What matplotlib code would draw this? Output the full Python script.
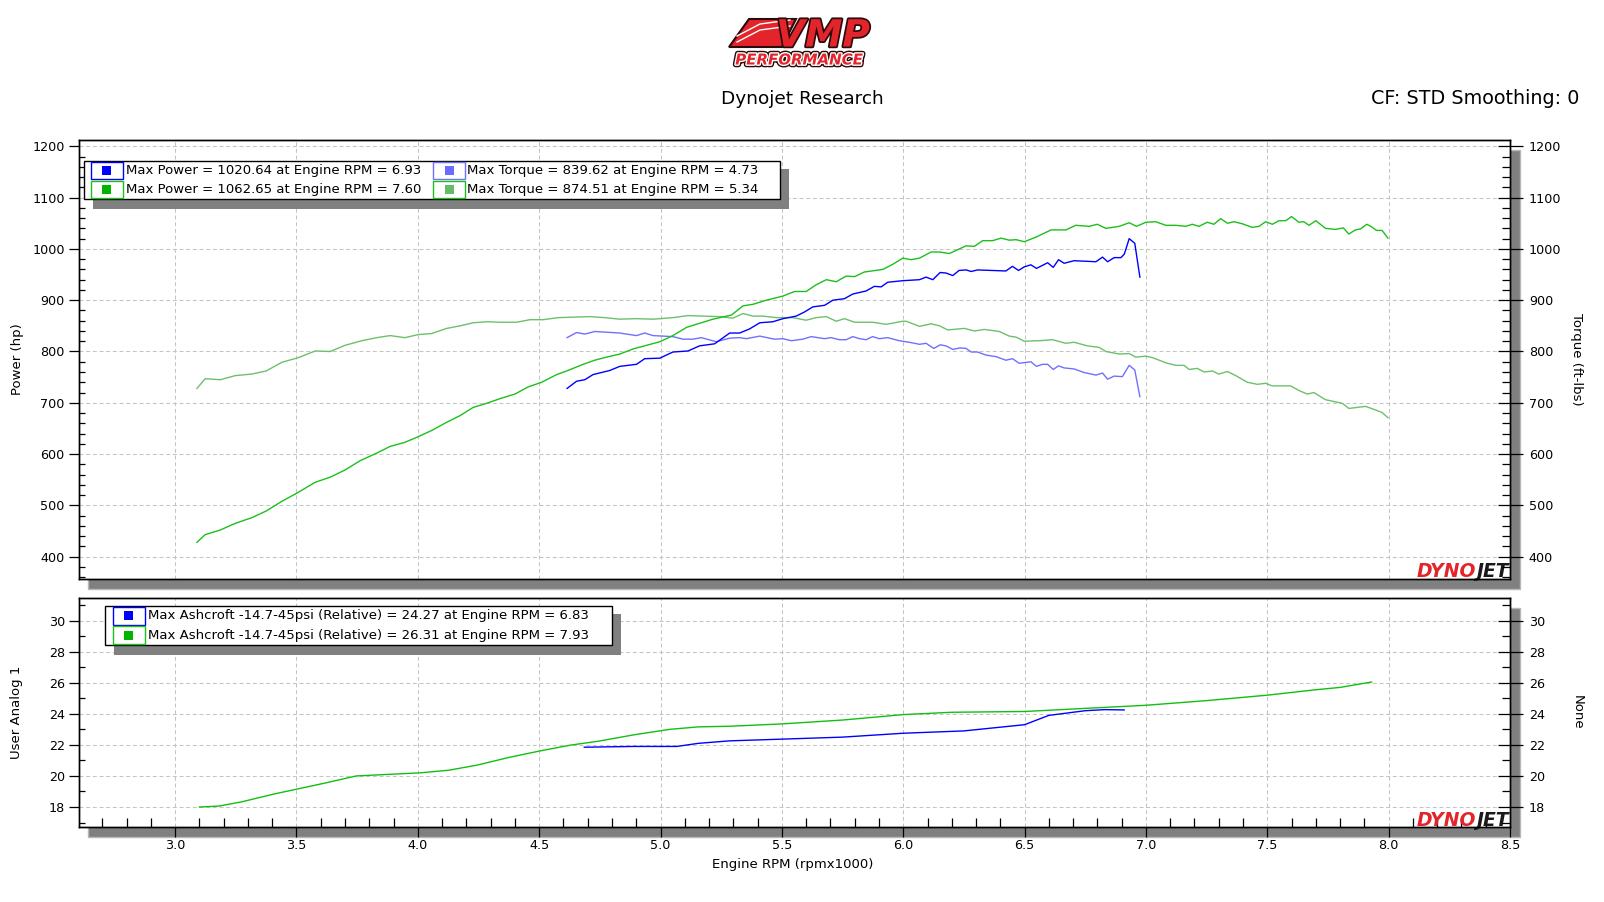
import matplotlib.pyplot as plt
import matplotlib.patheffects as pe
from matplotlib.patches import Rectangle, Polygon
from matplotlib.ticker import MultipleLocator

W, H = 1604, 902

# ---- run 1 (blue) ----
blue_hp_rpm = [4.615, 4.654, 4.688, 4.722, 4.791, 4.832, 4.901, 4.935, 4.997, 5.051,
               5.113, 5.161, 5.223, 5.285, 5.326, 5.367, 5.409, 5.463, 5.504, 5.559,
               5.593, 5.628, 5.676, 5.71, 5.758, 5.792, 5.847, 5.881, 5.909, 5.936,
               5.998, 6.067, 6.094, 6.122, 6.152, 6.176, 6.204, 6.23, 6.259, 6.28,
               6.306, 6.423, 6.45, 6.475, 6.499, 6.526, 6.549, 6.595, 6.618, 6.64,
               6.663, 6.704, 6.794, 6.821, 6.842, 6.869, 6.897, 6.911, 6.931, 6.954,
               6.975]
blue_hp = [728, 742, 745, 755, 763, 771, 775, 786, 787, 799,
           801, 811, 815, 836, 836, 844, 856, 858, 864, 869,
           877, 887, 890, 900, 903, 912, 918, 927, 926, 935,
           938, 940, 945, 940, 954, 953, 948, 958, 959, 956,
           959, 957, 966, 958, 965, 969, 962, 973, 964, 979,
           972, 977, 975, 984, 975, 983, 983, 990, 1020, 1011,
           945]

blue_tq_rpm = [4.615, 4.654, 4.688, 4.729, 4.832, 4.901, 4.935, 4.969, 5.051, 5.093,
               5.134, 5.168, 5.23, 5.285, 5.326, 5.354, 5.409, 5.47, 5.504, 5.539,
               5.586, 5.621, 5.676, 5.703, 5.737, 5.765, 5.792, 5.82, 5.847, 5.874,
               5.902, 5.936, 5.984, 6.025, 6.067, 6.094, 6.126, 6.152, 6.176, 6.204,
               6.234, 6.259, 6.28, 6.306, 6.341, 6.382, 6.423, 6.45, 6.478, 6.526,
               6.549, 6.574, 6.595, 6.618, 6.64, 6.663, 6.704, 6.745, 6.794, 6.821,
               6.842, 6.869, 6.903, 6.931, 6.954, 6.975]
blue_tq = [827, 837, 834, 839, 836, 831, 836, 831, 829, 824,
           824, 827, 819, 826, 827, 825, 830, 824, 825, 821,
           824, 829, 825, 827, 823, 823, 829, 825, 823, 829,
           825, 827, 821, 818, 814, 816, 806, 813, 811, 804,
           807, 806, 799, 799, 793, 790, 783, 786, 777, 780,
           771, 775, 775, 765, 772, 768, 766, 759, 754, 758,
           746, 752, 751, 773, 764, 712]

# ---- run 2 (green) ----
green_hp_rpm = [3.09, 3.124, 3.186, 3.248, 3.316, 3.375, 3.44, 3.502, 3.577, 3.639,
                3.70, 3.762, 3.831, 3.886, 3.947, 4.002, 4.057, 4.119, 4.174, 4.228,
                4.284, 4.338, 4.40, 4.455, 4.51, 4.572, 4.613, 4.681, 4.729, 4.777,
                4.832, 4.887, 4.942, 4.997, 5.051, 5.107, 5.161, 5.216, 5.292, 5.34,
                5.381, 5.436, 5.504, 5.552, 5.60, 5.641, 5.683, 5.724, 5.765, 5.80,
                5.84, 5.916, 5.957, 5.998, 6.032, 6.067, 6.115, 6.149, 6.19, 6.259,
                6.293, 6.327, 6.368, 6.403, 6.437, 6.465, 6.499, 6.547, 6.609, 6.67,
                6.711, 6.766, 6.80, 6.835, 6.89, 6.931, 6.961, 7.0, 7.04, 7.082,
                7.123, 7.164, 7.191, 7.218, 7.253, 7.28, 7.308, 7.336, 7.363, 7.397,
                7.438, 7.466, 7.493, 7.521, 7.548, 7.576, 7.60, 7.63, 7.65, 7.672,
                7.70, 7.74, 7.781, 7.813, 7.836, 7.863, 7.884, 7.91, 7.93, 7.95,
                7.973, 7.997]
green_hp = [428, 443, 452, 465, 476, 489, 508, 524, 545, 555,
            569, 587, 602, 615, 623, 634, 646, 662, 675, 691,
            699, 708, 717, 731, 740, 755, 762, 775, 783, 789,
            795, 805, 812, 819, 831, 847, 855, 863, 871, 889,
            892, 900, 908, 917, 917, 930, 940, 936, 947, 946,
            955, 960, 970, 982, 979, 982, 994, 994, 991, 1006,
            1005, 1016, 1016, 1021, 1017, 1018, 1014, 1023, 1037, 1037,
            1046, 1044, 1048, 1040, 1044, 1051, 1044, 1052, 1053, 1046,
            1046, 1044, 1048, 1044, 1052, 1048, 1059, 1050, 1053, 1049,
            1042, 1044, 1053, 1048, 1055, 1055, 1063, 1052, 1053, 1046,
            1055, 1040, 1038, 1041, 1029, 1037, 1039, 1048, 1043, 1036,
            1036, 1021]

green_tq_rpm = [3.09, 3.124, 3.186, 3.248, 3.316, 3.375, 3.44, 3.508, 3.577, 3.639,
                3.70, 3.769, 3.831, 3.886, 3.947, 4.002, 4.057, 4.119, 4.174, 4.228,
                4.284, 4.338, 4.407, 4.462, 4.516, 4.578, 4.64, 4.709, 4.77, 4.832,
                4.901, 4.969, 5.051, 5.113, 5.175, 5.243, 5.298, 5.34, 5.381, 5.422,
                5.477, 5.545, 5.60, 5.641, 5.683, 5.724, 5.758, 5.80, 5.874, 5.93,
                5.998, 6.012, 6.067, 6.115, 6.15, 6.183, 6.252, 6.293, 6.334, 6.396,
                6.437, 6.465, 6.499, 6.56, 6.615, 6.67, 6.704, 6.759, 6.807, 6.835,
                6.89, 6.931, 6.958, 7.0, 7.027, 7.082, 7.123, 7.157, 7.178, 7.212,
                7.24, 7.274, 7.30, 7.336, 7.37, 7.418, 7.459, 7.493, 7.52, 7.596,
                7.63, 7.665, 7.692, 7.74, 7.809, 7.836, 7.905, 7.946, 7.973, 7.997]
green_tq = [728, 747, 745, 753, 756, 762, 779, 788, 801, 800,
            812, 821, 827, 831, 827, 833, 835, 845, 850, 856,
            858, 857, 857, 862, 862, 866, 867, 868, 866, 863,
            864, 863, 866, 870, 869, 868, 865, 874, 869, 869,
            866, 866, 861, 866, 868, 859, 864, 857, 857, 853,
            859, 859, 849, 854, 850, 842, 845, 840, 843, 839,
            830, 828, 820, 821, 823, 816, 818, 811, 808, 800,
            795, 796, 789, 791, 788, 778, 773, 773, 765, 767,
            760, 762, 756, 761, 753, 740, 736, 738, 733, 733,
            724, 717, 720, 706, 699, 689, 693, 686, 681, 671]

# ---- boost (Ashcroft, psi) ----
boost_blue_rpm = [4.686, 4.891, 5.067, 5.156, 5.285, 5.5, 5.75, 6.0, 6.25, 6.5,
                  6.6, 6.75, 6.83, 6.91]
boost_blue = [21.85, 21.9, 21.9, 22.1, 22.26, 22.37, 22.5, 22.75, 22.9, 23.3,
              23.9, 24.2, 24.27, 24.25]

boost_green_rpm = [3.10, 3.18, 3.276, 3.408, 3.504, 3.614, 3.746, 3.863, 4.01, 4.128,
                   4.245, 4.377, 4.5, 4.627, 4.745, 4.891, 5.038, 5.156, 5.285, 5.5,
                   5.75, 6.0, 6.2, 6.5, 6.75, 7.0, 7.25, 7.5, 7.7, 7.8, 7.93]
boost_green = [18.0, 18.06, 18.34, 18.84, 19.16, 19.53, 20.0, 20.09, 20.2, 20.37,
               20.7, 21.2, 21.6, 21.98, 22.24, 22.65, 23.0, 23.16, 23.2, 23.35,
               23.6, 23.95, 24.1, 24.15, 24.35, 24.55, 24.85, 25.2, 25.55, 25.7, 26.05]

top_labels = [
    ["Max Power = 1020.64 at Engine RPM = 6.93", "Max Power = 1062.65 at Engine RPM = 7.60"],
    ["Max Torque = 839.62 at Engine RPM = 4.73", "Max Torque = 874.51 at Engine RPM = 5.34"],
]
bottom_labels = [
    "Max Ashcroft -14.7-45psi (Relative) = 24.27 at Engine RPM = 6.83",
    "Max Ashcroft -14.7-45psi (Relative) = 26.31 at Engine RPM = 7.93",
]

BLUE = "#0000ff"
BLUE_LT = "#7070ff"
GREEN = "#1cbf1c"
GREEN_LT = "#6cc06c"
GRID = "#c4c4c4"
SHADOW = "#808080"
RED = "#e3242b"

plt.rcParams["font.family"] = ["DejaVu Sans"]


def fx(x):
    return x / W


def fy(y):
    return 1 - y / H


def px_rect(fig, x0, y0, x1, y1, **kw):
    r = Rectangle((fx(x0), fy(y1)), (x1 - x0) / W, (y1 - y0) / H,
                  transform=fig.transFigure, **kw)
    fig.add_artist(r)
    return r


def px_axes(fig, x0, y0, x1, y1):
    return fig.add_axes([fx(x0), fy(y1), (x1 - x0) / W, (y1 - y0) / H])


def style_axes(ax, axr, major, minor):
    for a in (ax, axr):
        a.yaxis.set_major_locator(MultipleLocator(major))
        a.yaxis.set_minor_locator(MultipleLocator(minor))
        for s in a.spines.values():
            s.set_linewidth(1.0)
            s.set_color("black")
    ax.tick_params(axis="y", which="major", direction="out", length=7.2, width=0.9,
                   labelsize=9.2, pad=3)
    ax.tick_params(axis="y", which="minor", direction="in", length=4.5, width=0.9)
    axr.tick_params(axis="y", which="major", direction="inout", length=18, width=0.9,
                    labelsize=9.2, pad=4.5)
    axr.tick_params(axis="y", which="minor", direction="in", length=5.5, width=0.9)
    ax.xaxis.set_major_locator(MultipleLocator(0.5))
    ax.grid(True, which="major", color=GRID, linestyle=(0, (3.8, 2.6)), linewidth=0.75)
    ax.set_axisbelow(True)


def dynojet(ax):
    jet = ax.text(0.999, 0.004, "JET", transform=ax.transAxes, ha="right", va="baseline",
                  fontsize=13.5, fontweight="bold", fontstyle="italic", color="#1a1a1a",
                  zorder=6)
    ax.annotate("DYNO", xy=(0, 0), xycoords=jet, ha="right", va="bottom",
                fontsize=13.5, fontweight="bold", fontstyle="italic", color=RED, zorder=6)


def legend_box(fig, x0, y0, x1, y1, cols, rows_text, edge_colors, fill_colors):
    # shadow + frame
    px_rect(fig, x0 + 9, y0 + 8, x1 + 9, y1 + 10, facecolor=SHADOW, edgecolor="none", zorder=5)
    px_rect(fig, x0, y0, x1, y1, facecolor="white", edgecolor="black", linewidth=1.0, zorder=6)
    rh = (y1 - y0) / len(rows_text[0])
    for c, (cx0, cx1, tx) in enumerate(cols):
        for r, label in enumerate(rows_text[c]):
            ry0 = y0 + r * rh
            px_rect(fig, cx0, ry0 + 1, cx1, ry0 + rh - 0.5, facecolor="white",
                    edgecolor=edge_colors[c][r], linewidth=1.0, zorder=7)
            mx = (cx0 + cx1) / 2
            my = ry0 + rh / 2 + 0.3
            px_rect(fig, mx - 4.5, my - 4.5, mx + 4.5, my + 4.5, facecolor=fill_colors[c][r],
                    edgecolor="none", zorder=8)
            fig.text(fx(tx), fy(my), label, ha="left", va="center", fontsize=9.5,
                     color="black", zorder=8)


def vmp_logo(fig):
    wedge = Polygon([(fx(729), fy(47)), (fx(749), fy(19)), (fx(796), fy(19)),
                     (fx(782), fy(47))], closed=True, transform=fig.transFigure,
                    facecolor=RED, edgecolor="#2a0a0a", linewidth=1.5, zorder=3)
    fig.add_artist(wedge)
    for dy in (0, 6):
        fig.add_artist(plt.Line2D([fx(737), fx(760), fx(790)],
                                  [fy(42 - dy), fy(30 - dy), fy(26 - dy)],
                                  transform=fig.transFigure, color="white",
                                  linewidth=1.0, zorder=4))
    fig.text(fx(823), fy(46.5), "VMP", ha="center", va="baseline", fontsize=27,
             fontweight="bold", fontstyle="italic", color=RED, zorder=5,
             path_effects=[pe.Stroke(linewidth=2.5, foreground="#2a0a0a"), pe.Normal()])
    fig.text(fx(799), fy(64.5), "PERFORMANCE", ha="center", va="baseline", fontsize=10.8,
             fontweight="bold", fontstyle="italic", color=RED, zorder=5,
             path_effects=[pe.Stroke(linewidth=4, foreground="#2a0a0a"),
                           pe.Stroke(linewidth=2, foreground="white"), pe.Normal()])


fig = plt.figure(figsize=(W / 100, H / 100), dpi=100)

# axes shadows
px_rect(fig, 88, 150, 1520, 589, facecolor=SHADOW, edgecolor="#b8b8b8", linewidth=1, zorder=-1)
px_rect(fig, 88, 608, 1520, 837, facecolor=SHADOW, edgecolor="#b8b8b8", linewidth=1, zorder=-1)

# ---- upper panel: power / torque ----
ax1 = px_axes(fig, 79, 140, 1510, 579)
ax1.set_facecolor("white")
ax1.plot(green_tq_rpm, green_tq, color=GREEN_LT, linewidth=1.0, zorder=3)
ax1.plot(blue_tq_rpm, blue_tq, color=BLUE_LT, linewidth=1.0, zorder=3)
ax1.plot(green_hp_rpm, green_hp, color=GREEN, linewidth=1.0, zorder=4)
ax1.plot(blue_hp_rpm, blue_hp, color=BLUE, linewidth=1.0, zorder=4)
ax1.set_xlim(2.604, 8.5)
ax1.set_ylim(356.5, 1212.3)
ax1r = ax1.twinx()
ax1r.set_ylim(ax1.get_ylim())
style_axes(ax1, ax1r, 100, 20)
ax1.tick_params(axis="x", which="both", length=0, labelbottom=False)
dynojet(ax1)

# ---- lower panel: boost ----
ax2 = px_axes(fig, 79, 598.4, 1510, 826.6)
ax2.set_facecolor("white")
ax2.plot(boost_green_rpm, boost_green, color="#10c010", linewidth=1.0, zorder=3)
ax2.plot(boost_blue_rpm, boost_blue, color=BLUE, linewidth=1.0, zorder=4)
ax2.set_xlim(2.604, 8.5)
ax2.set_ylim(16.74, 31.43)
ax2r = ax2.twinx()
ax2r.set_ylim(ax2.get_ylim())
style_axes(ax2, ax2r, 2, 1)
ax2.xaxis.set_minor_locator(MultipleLocator(0.1))
ax2.tick_params(axis="x", which="major", direction="out", length=7.2, width=0.9,
                labelsize=9.2, pad=1.5)
ax2.tick_params(axis="x", which="minor", direction="in", length=6.3, width=0.9)
ax2.xaxis.set_major_formatter(lambda v, p: f"{v:.1f}")
dynojet(ax2)

# ---- legends ----
legend_box(fig, 84, 160.6, 780, 198.5,
           [(90.5, 123, 125.5), (433, 465, 467)],
           top_labels,
           [[BLUE, GREEN], [BLUE_LT, GREEN]],
           [[BLUE, "#00b400"], ["#6b6bff", "#66bb66"]])
legend_box(fig, 105.4, 605.6, 612, 644.5,
           [(113, 145, 148)],
           [bottom_labels],
           [[BLUE, GREEN]],
           [[BLUE, "#00b400"]])

# ---- titles and axis labels ----
vmp_logo(fig)
fig.text(fx(802), fy(99), "Dynojet Research", ha="center", va="center", fontsize=13.3)
fig.text(fx(1579), fy(99), "CF: STD Smoothing: 0", ha="right", va="center", fontsize=13.8)
fig.text(fx(17), fy(359.5), "Power (hp)", rotation=90, ha="center", va="center", fontsize=9.5)
fig.text(fx(17), fy(712.5), "User Analog 1", rotation=90, ha="center", va="center", fontsize=9.5)
fig.text(fx(1577), fy(359.5), "Torque (ft-lbs)", rotation=-90, ha="center", va="center",
         fontsize=9.5)
fig.text(fx(1577), fy(712.5), "None", rotation=-90, ha="center", va="center", fontsize=9.5)
fig.text(fx(793), fy(864.5), "Engine RPM (rpmx1000)", ha="center", va="center", fontsize=9.5)

fig.savefig("out.png", dpi=100)
plt.close(fig)
